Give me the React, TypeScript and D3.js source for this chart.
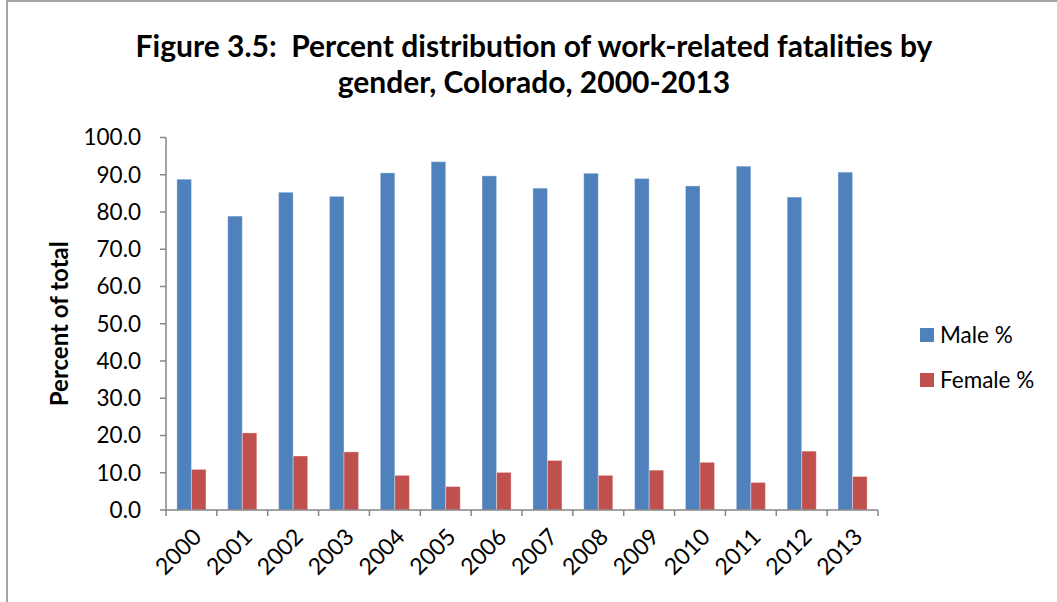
import React from 'react';
import * as d3 from 'd3';

const WIDTH = 1057;
const HEIGHT = 602;
const MARGIN = { top: 137.5, right: 179, left: 166, bottom: 92 };

const years = ['2000', '2001', '2002', '2003', '2004', '2005', '2006', '2007', '2008', '2009', '2010', '2011', '2012', '2013'];
const malePct = [88.8, 78.9, 85.3, 84.2, 90.5, 93.5, 89.7, 86.4, 90.4, 89.0, 87.0, 92.3, 84.0, 90.7];
const femalePct = [10.9, 20.7, 14.5, 15.6, 9.3, 6.3, 10.1, 13.3, 9.3, 10.7, 12.8, 7.4, 15.8, 9.0];
const yTicks = [0, 10, 20, 30, 40, 50, 60, 70, 80, 90, 100];
const seriesNames = ['Male %', 'Female %'];
const seriesColors = ['#4F81BD', '#C0504D'];
const titleLines = ['Figure 3.5:  Percent distribution of work-related fatalities by', 'gender, Colorado, 2000-2013'];

const FONT = 'Lato, "Open Sans", sans-serif';
const AXIS = '#868686';

const App = () => {
    const chartLeft = MARGIN.left;
    const chartRight = WIDTH - MARGIN.right;
    const chartTop = MARGIN.top;
    const chartBottom = HEIGHT - MARGIN.bottom;

    const xScale = d3.scaleBand()
        .domain(years)
        .range([chartLeft, chartRight]);

    // Excel gap width 150% -> two bars take 2/3.5 of the band
    const barW = xScale.bandwidth() / 3.5;
    const gap = (xScale.bandwidth() - 2 * barW) / 2;

    const yScale = d3.scaleLinear()
        .domain([0, 100])
        .range([chartBottom, chartTop]);

    const series = [malePct, femalePct];

    return (
        <svg width={WIDTH} height={HEIGHT} style={{ position: 'absolute', left: 0, top: 0, background: '#fff' }} fontFamily={FONT}>
            <rect x={7} y={1} width={WIDTH + 10} height={HEIGHT + 10} fill="#fff" stroke="#888" strokeWidth={1.5} />

            {titleLines.map((t, i) =>
                <text key={i} x={534} y={57 + i * 36} textAnchor="middle" fontSize={30} fontWeight="bold" fill="#000" style={{ whiteSpace: 'pre' }}>{t}</text>
            )}

            {/* bars */}
            {series.map((vals, s) =>
                <g key={s}>
                    {vals.map((v, i) =>
                        <rect key={i}
                            x={xScale(years[i]) + gap + s * barW}
                            y={yScale(v)}
                            width={barW}
                            height={chartBottom - yScale(v)}
                            fill={seriesColors[s]}
                            stroke="rgba(255,255,255,0.35)"
                            strokeWidth={1} />
                    )}
                </g>
            )}

            {/* y axis */}
            <line x1={chartLeft} x2={chartLeft} y1={chartTop} y2={chartBottom} stroke={AXIS} strokeWidth={1.5} />
            {yTicks.map(t =>
                <g key={t}>
                    <line x1={chartLeft - 6} x2={chartLeft} y1={yScale(t)} y2={yScale(t)} stroke={AXIS} strokeWidth={1.5} />
                    <text x={chartLeft - 25} y={yScale(t)} dy="0.35em" textAnchor="end" fontSize={22.5} fill="#000">{t.toFixed(1)}</text>
                </g>
            )}

            {/* x axis */}
            <line x1={chartLeft} x2={chartRight} y1={chartBottom} y2={chartBottom} stroke={AXIS} strokeWidth={1.5} />
            {[...years.map(y => xScale(y)), chartRight].map((x, i) =>
                <line key={i} x1={x} x2={x} y1={chartBottom} y2={chartBottom + 6} stroke={AXIS} strokeWidth={1.5} />
            )}
            {years.map(y => {
                const cx = xScale(y) + xScale.bandwidth() / 2;
                const cy = chartBottom + 17;
                return (
                    <text key={y} transform={`translate(${cx},${cy}) rotate(-45)`} textAnchor="end" dy="0.7em" fontSize={23} fill="#000">{y}</text>
                );
            })}

            <text transform={`translate(68, ${(chartTop + chartBottom) / 2}) rotate(-90)`} textAnchor="middle" fontSize={24} fontWeight="bold" fill="#000">Percent of total</text>

            {/* legend */}
            {seriesNames.map((n, i) =>
                <g key={n} transform={`translate(920, ${328 + i * 45})`}>
                    <rect width={14} height={14} fill={seriesColors[i]} />
                    <text x={20} y={7} dy="0.35em" fontSize={22.5} fill="#000">{n}</text>
                </g>
            )}
        </svg>
    );
};

export default App;
